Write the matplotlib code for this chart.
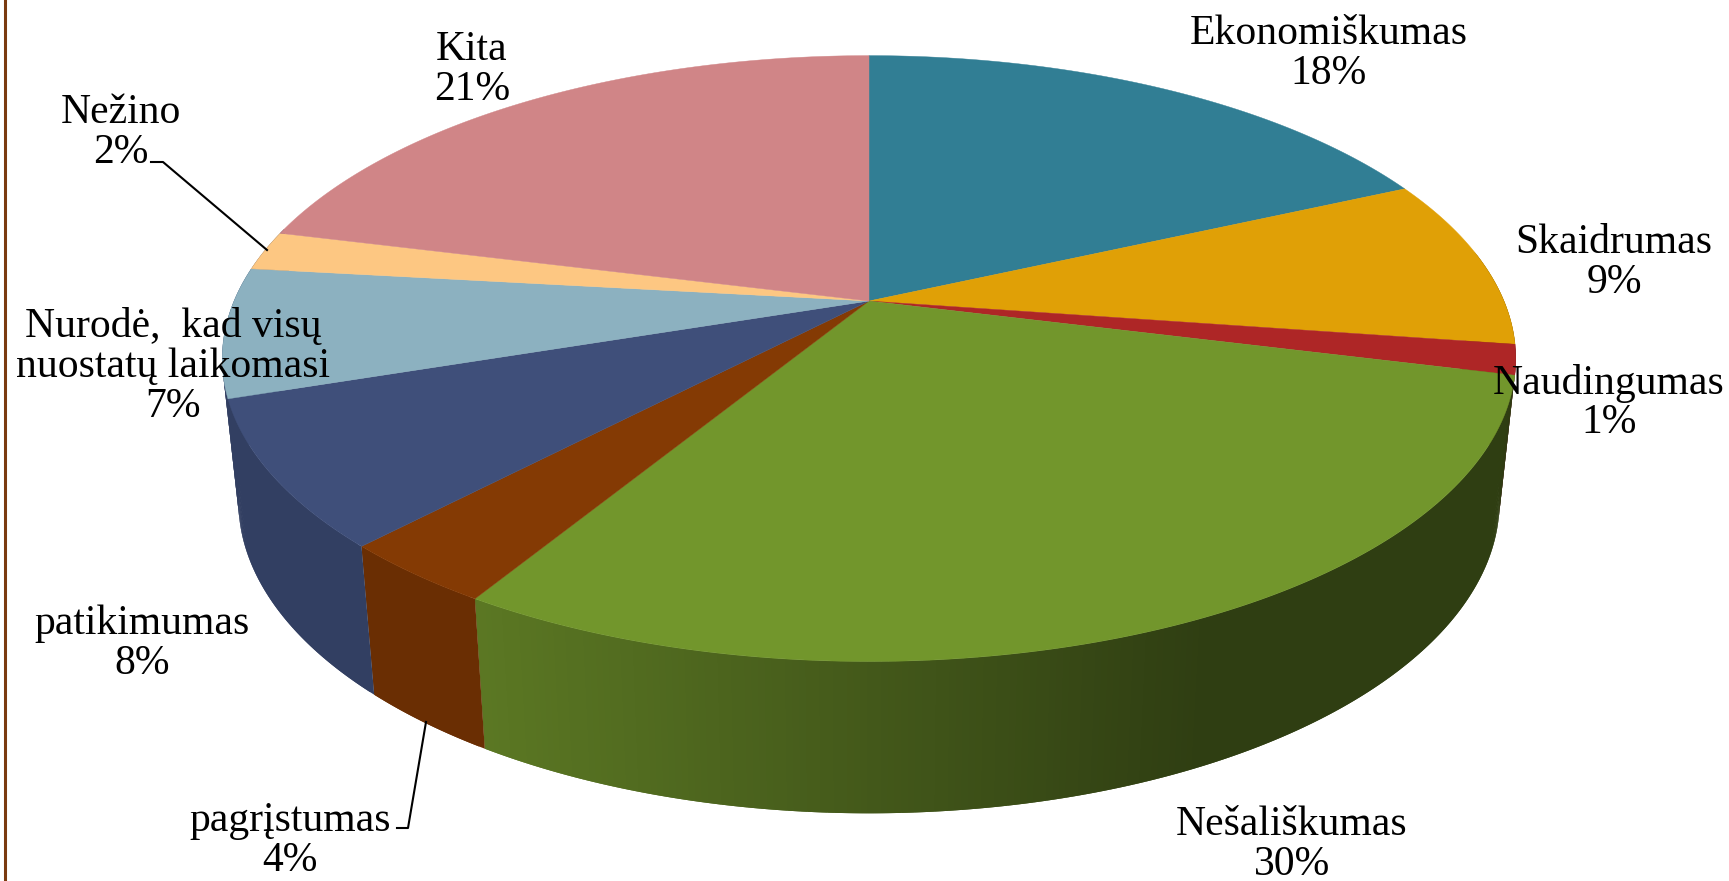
import numpy as np
import matplotlib
matplotlib.use('Agg')
import matplotlib.pyplot as plt
from matplotlib.colors import to_rgb

labels = ['Ekonomiškumas', 'Skaidrumas', 'Naudingumas', 'Nešališkumas', 'pagrįstumas',
          'patikimumas', 'Nurodė,  kad visų\nnuostatų laikomasi', 'Nežino', 'Kita']
# slice sizes, printed labels are rounded
values = [18.2, 9.1, 1.6, 29.8, 3.4, 7.8, 6.9, 2.1, 21.1]
pct_labels = ['18%', '9%', '1%', '30%', '4%', '8%', '7%', '2%', '21%']
colors = ['#317e94', '#e0a006', '#ae2626', '#72962c', '#843a04',
          '#3f4f7a', '#8cb1c0', '#fdc782', '#d08587']
label_x = [1329, 1614, 1609, 1292, 290, 142, 173, 121, 472]
label_y = [54, 263, 403, 845, 841, 644, 367, 133, 70]

# perspective of the tilted disc, pixels
cx, cy = 869, 301
A, B, k = 635, 292, 0.19


def top_xy(theta):
    u, v = np.sin(theta), np.cos(theta)
    w = 1 + k * v
    return cx + A * u / w, cy - B * v / w


def bottom_xy(theta):
    x, y = top_xy(theta)
    return cx + (x - cx) * 0.975, cy + (y - cy) * 1.03 + 141


fig = plt.figure(figsize=(17.29, 8.81), dpi=100)
ax = fig.add_axes([0, 0, 1, 1])
ax.set_xlim(0, 1729)
ax.set_ylim(881, 0)
ax.axis('off')

edges = np.radians(np.cumsum([0] + values) * 3.6)

# side wall, shaded darker towards the right. The blue wall also runs on behind
# the next slice, the reference shows almost nothing of that one's wall
for i, col in enumerate(colors[:6]):
    a0 = max(edges[i], np.radians(80))
    a1 = np.radians(285) if i == 5 else edges[i + 1]
    if a1 <= a0:
        continue
    t = np.linspace(a0, a1, max(int(np.degrees(a1 - a0) * 2), 2))
    xt, yt = top_xy(t)
    xb, yb = bottom_xy(t)
    for j in range(len(t) - 1):
        # each quad overlaps the next one so no seams show
        n = min(j + 2, len(t) - 1)
        f = np.interp((xb[j] + xb[n]) / 2, [480, 1200], [0.8, 0.41])
        ax.fill([xt[j], xt[n], xb[n], xb[j]], [yt[j], yt[n], yb[n], yb[j]],
                color=tuple(np.array(to_rgb(col)) * f), lw=0)

# top of the pie
for i, col in enumerate(colors):
    t = np.linspace(edges[i], edges[i + 1], 200)
    x, y = top_xy(t)
    ax.fill(np.r_[cx, x], np.r_[cy, y], color=col, lw=0.3)

# leader lines
ax.plot([151, 163, 267], [162, 162, 250], color='black', lw=1.5)
ax.plot([397, 408, 426], [828, 828, 722], color='black', lw=1.5)

# frame line on the left
ax.plot([5, 5], [0, 881], color='#7a3a0f', lw=2.2)

for name, pct, x, y in zip(labels, pct_labels, label_x, label_y):
    ax.text(x, y, name + '\n' + pct, ha='center', va='center', fontsize=30,
            family='Liberation Serif', color='black', linespacing=1.05)

fig.savefig('out.png', dpi=100)
